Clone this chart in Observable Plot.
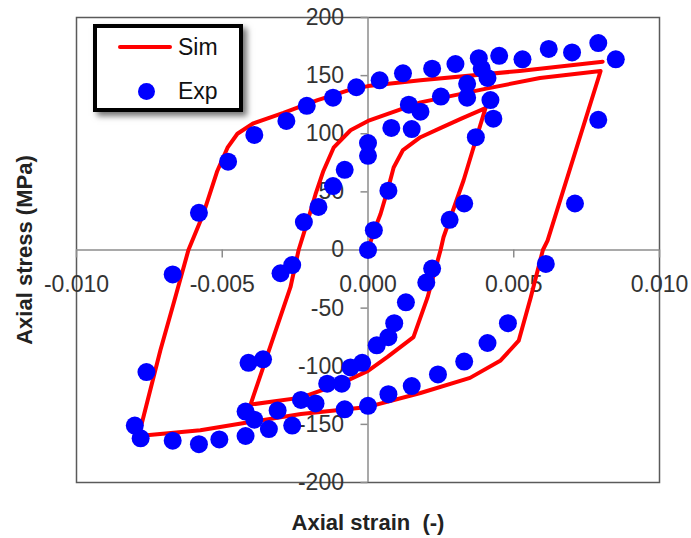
<!DOCTYPE html>
<html>
<head>
<meta charset="utf-8">
<script src="https://cdn.jsdelivr.net/npm/d3@7"></script>
<script src="https://cdn.jsdelivr.net/npm/@observablehq/plot@0.6"></script>
<style>
  html, body { margin: 0; padding: 0; background: #fff; }
  #wrap { position: relative; width: 691px; height: 538px; }
  #legend {
    position: absolute; left: 93px; top: 24px; width: 142px; height: 80px;
    border: 4px solid #000; background: #fff;
    box-shadow: 4px 4px 6px rgba(0,0,0,0.55);
    font-family: "Liberation Sans", Arial, sans-serif; font-size: 23px; color: #111;
  }
  #legend .ln { position: absolute; left: 21px; top: 17px; width: 54px; height: 4px; background: #ff0000; border-radius: 2px; }
  #legend .dt { position: absolute; left: 41px; top: 55px; width: 17px; height: 17px; border-radius: 50%; background: #0000ff; }
  #legend .tx { position: absolute; left: 81px; height: 26px; line-height: 26px; }
</style>
</head>
<body>
<div id="wrap">
  <div id="chart"></div>
  <div id="legend">
    <div class="ln"></div><div class="tx" style="top:6px">Sim</div>
    <div class="dt"></div><div class="tx" style="top:50px">Exp</div>
  </div>
</div>
<script>
// Tick values
const xTicks = [-0.010, -0.005, 0.000, 0.005, 0.010];
const yTicks = [-200, -150, -100, -50, 0, 50, 100, 150, 200];

// Simulation (continuous path)
const simStrain = [
  0, 0.0002, 0.00043, 0.0007, 0.00088, 0.0012, 0.0018, 0.0025, 0.0032, 0.00403,
  0.00369, 0.00328, 0.00259, 0.00249, 0.00204, 0.00156, 0.00067, 0, -0.00094, -0.0023, -0.00403,
  -0.00266, -0.00238, -0.00207, -0.0018, -0.00153, -0.00118, -0.0006, 0, 0.0018, 0.0041, 0.0059, 0.00798,
  0.00616, 0.0060, 0.00558, 0.00517, 0.00455, 0.0035, 0.0018, 0, -0.0023, -0.0043, -0.00575, -0.00787,
  -0.00712, -0.00667, -0.00616, -0.00565, -0.00517, -0.00482, -0.00448, -0.00393, -0.0029, -0.00173, -0.0006, 0, 0.0018, 0.0052, 0.00805
];
const simStress = [
  0, 16, 31, 54, 71, 86, 97, 105, 113, 122,
  94, 60, 11, 0, -41, -75, -92, -104, -115, -127, -133,
  -32, 0, 25, 48, 68, 88, 103, 111, 127, 139, 148, 154,
  8, 0, -41, -78, -95, -110, -123, -135, -141, -149, -155, -160,
  -86, -46, 0, 31, 68, 88, 100, 109, 118, 129, 138, 141, 146, 154, 162
];

// Experiment (points)
const expStrain = [
  -0.0080, -0.0078, -0.0076, -0.0067, -0.0058, -0.0048, -0.0039, -0.0028, -0.0021, -0.0012,
  -0.0004, 0.0004, 0.0012, 0.0022, 0.0030, 0.0038, 0.0045, 0.0053, 0.0062, 0.0070,
  0.0079, 0.0085, 0.0079, 0.0071, 0.0061, 0.0048, 0.0041, 0.0033, 0.0024, 0.0015,
  0.0007, 0.0000, -0.0008, -0.0018, -0.0023, -0.0026, -0.0034, -0.0042, -0.0051, -0.0058,
  -0.0067, -0.0031, -0.0039, -0.0042, -0.0041, -0.0036, -0.0030, -0.0026, -0.0022, -0.0017,
  -0.0012, -0.0008, 0.0000, 0.0000, 0.0008, 0.0015, 0.0014, 0.0018, 0.0025, 0.0034,
  0.0034, 0.0039, 0.0041, 0.0042, 0.0043, 0.0037, 0.0033, 0.0028, 0.0022, 0.0020,
  0.0013, 0.0009, 0.0007, 0.0003, -0.0002, -0.0006, -0.0009, -0.0014, 0.0000, 0.0002,
  0.0007
];
const expStress = [
  -151, -162, -105, -21, 32, 76, 99, 111, 124, 131,
  140, 146, 152, 156, 160, 165, 167, 164, 173, 170,
  178, 164, 112, 40, -12, -63, -80, -96, -107, -117,
  -124, -134, -137, -132, -129, -151, -154, -160, -163, -167,
  -164, -138, -146, -139, -97, -94, -20, -13, 24, 37,
  55, 69, 81, 92, 105, 104, 125, 119, 132, 143,
  131, 156, 148, 129, 113, 97, 40, 26, -16, -28,
  -45, -63, -75, -82, -97, -101, -115, -115, 0, 17,
  51
];

const sim = simStrain.map((x, i) => ({x, y: simStress[i]}));
const exp = expStrain.map((x, i) => ({x, y: expStress[i]}));

const W = 691, H = 538, mL = 76, mR = 32, mT = 17, mB = 56;
// tick lengths expressed in data units of the other axis
const tickLenY = 8 * 400 / (H - mT - mB);   // x-axis ticks (downwards)
const tickLenX = 7 * 0.02 / (W - mL - mR);  // y-axis ticks (leftwards)

const font = "Liberation Sans, Arial, sans-serif";
const chart = Plot.plot({
  width: W, height: H,
  marginLeft: mL, marginRight: mR, marginTop: mT, marginBottom: mB,
  x: {domain: [-0.010, 0.010], axis: null},
  y: {domain: [-200, 200], axis: null},
  style: {fontFamily: font, background: "#fff", overflow: "visible"},
  marks: [
    Plot.frame({stroke: "#5a5a5a", strokeWidth: 1.5}),
    Plot.ruleY([0], {stroke: "#8c8c8c", strokeWidth: 1.5}),
    Plot.ruleX([0], {stroke: "#8c8c8c", strokeWidth: 1.5}),
    Plot.ruleX(xTicks, {x: d => d, y1: 0, y2: -tickLenY, stroke: "#8c8c8c", strokeWidth: 1.5}),
    Plot.ruleY(yTicks, {y: d => d, x1: -tickLenX, x2: 0, stroke: "#8c8c8c", strokeWidth: 1.5}),
    Plot.text(xTicks, {x: d => d, y: 0, text: d => d.toFixed(3), dy: 35, fontSize: 23, fill: "#333", lineAnchor: "middle"}),
    Plot.text(yTicks, {x: 0, y: d => d, text: d => String(d), dx: -24, textAnchor: "end", fontSize: 23, fill: "#333", lineAnchor: "middle"}),
    Plot.text(["Axial strain\u00a0 (-)"], {frameAnchor: "bottom", dy: 40, fontSize: 22, fontWeight: "bold", fill: "#222", lineAnchor: "middle"}),
    Plot.text(["Axial stress (MPa)"], {frameAnchor: "left", dx: -52, rotate: -90, textAnchor: "middle", fontSize: 22, fontWeight: "bold", fill: "#222", lineAnchor: "middle"}),
    Plot.line(sim, {x: "x", y: "y", stroke: "#ff0000", strokeWidth: 4, strokeLinejoin: "round", curve: "linear"}),
    Plot.dot(exp, {x: "x", y: "y", r: 9, fill: "#0000ff", stroke: "none"})
  ]
});
document.getElementById("chart").appendChild(chart);
</script>
</body>
</html>
